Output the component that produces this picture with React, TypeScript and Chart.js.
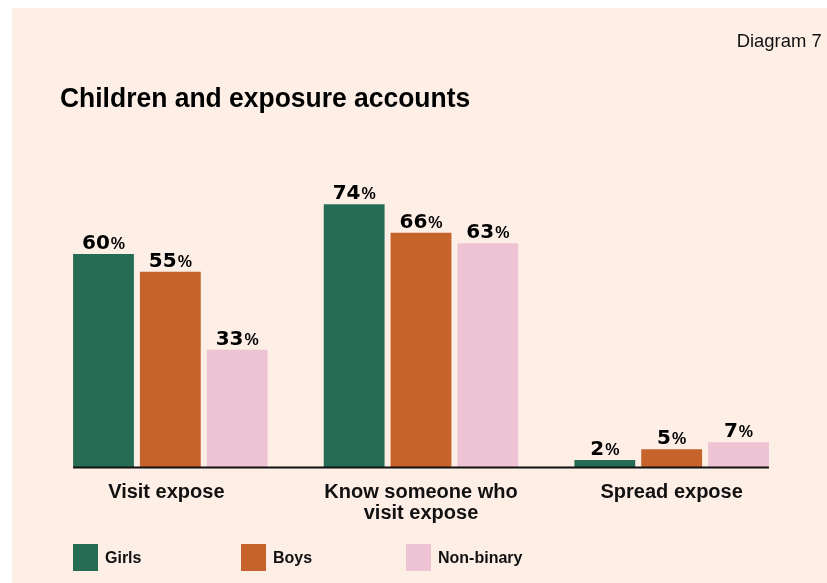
import React, { useEffect, useRef } from "react";
import { Chart, registerables } from "chart.js";

Chart.register(...registerables);

const categories: string[][] = [["Visit expose"], ["Know someone who", "visit expose"], ["Spread expose"]];
const seriesNames = ["Girls", "Boys", "Non-binary"];
const girls = [60, 74, 2];
const boys = [55, 66, 5];
const nonBinary = [33, 63, 7];
const seriesColors = ["#256c54", "#c5632a", "#eec3d4"];
const titleText = "Children and exposure accounts";
const diagramText = "Diagram 7";

const BG = "#fdeee6";

const labelPlugin = {
  id: "customLabels",
  afterDatasetsDraw(chart: any) {
    const ctx = chart.ctx;
    const xs = chart.scales.x;
    const ys = chart.scales.y;
    const y0 = ys.getPixelForValue(0);
    const first = chart.getDatasetMeta(0).data[0];
    const lastMeta = chart.getDatasetMeta(chart.data.datasets.length - 1);
    const last = lastMeta.data[lastMeta.data.length - 1];
    ctx.save();
    ctx.strokeStyle = "#111";
    ctx.lineWidth = 2;
    ctx.beginPath();
    ctx.moveTo(first.x - first.width / 2, y0 + 0.5);
    ctx.lineTo(last.x + last.width / 2, y0 + 0.5);
    ctx.stroke();

    chart.data.datasets.forEach((ds: any, di: number) => {
      const meta = chart.getDatasetMeta(di);
      meta.data.forEach((bar: any, i: number) => {
        const num = String(ds.data[i]);
        ctx.font = "bold 20px 'DejaVu Sans'";
        const wn = ctx.measureText(num).width;
        ctx.font = "bold 16px 'Liberation Sans'";
        const wp = ctx.measureText("%").width;
        const total = wn + 1 + wp;
        const left = bar.x - total / 2;
        const base = bar.y - 5;
        ctx.fillStyle = "#000";
        ctx.textAlign = "left";
        ctx.textBaseline = "alphabetic";
        ctx.font = "bold 20px 'DejaVu Sans'";
        ctx.fillText(num, left, base);
        ctx.font = "bold 16px 'Liberation Sans'";
        ctx.fillText("%", left + wn + 1, base);
      });
    });

    ctx.font = "bold 20px 'Liberation Sans'";
    ctx.textAlign = "center";
    ctx.fillStyle = "#111";
    categories.forEach((lines, i) => {
      const x = xs.getPixelForValue(i);
      lines.forEach((line, li) => {
        ctx.fillText(line, x - 4 * (i === 0 ? 1 : 0), y0 + 31 + li * 21);
      });
    });
    ctx.restore();
  },
};

export default function App() {
  const ref = useRef<HTMLCanvasElement>(null);
  useEffect(() => {
    if (!ref.current) return;
    const datasets = [girls, boys, nonBinary].map((d, i) => ({
      label: seriesNames[i],
      data: d,
      backgroundColor: seriesColors[i],
      borderWidth: 0,
      barPercentage: 0.91,
      categoryPercentage: 0.8,
    }));
    const chart = new Chart(ref.current, {
      type: "bar",
      data: { labels: categories.map((c) => c.join(" ")), datasets },
      options: {
        animation: false,
        responsive: false,
        layout: { padding: { left: 45, right: 30, top: 112, bottom: 116 } },
        scales: {
          x: { display: false },
          y: { display: false, min: 0, max: 100 },
        },
        plugins: { legend: { display: false }, tooltip: { enabled: false }, title: { display: false } },
      },
      plugins: [labelPlugin],
    });
    return () => chart.destroy();
  }, []);

  const legendX = [73, 241, 406];
  return (
    <div style={{ position: "fixed", left: 0, top: 0, width: 827, height: 583, background: "#fff", overflow: "hidden" }}>
      <div style={{ position: "absolute", left: 12, top: 8, right: 0, bottom: 0, background: BG }} />
      <canvas ref={ref} width={827} height={583} style={{ position: "absolute", left: 0, top: 0 }} />
      <div
        style={{
          position: "absolute",
          right: 5,
          top: 29,
          fontFamily: "'Liberation Sans', Arial, sans-serif",
          fontSize: 19,
          color: "#111",
          lineHeight: "24px",
          transform: "scaleX(0.97)",
          transformOrigin: "right center",
          whiteSpace: "nowrap",
        }}
      >
        {diagramText}
      </div>
      <div
        style={{
          position: "absolute",
          left: 60,
          top: 82,
          fontFamily: "'Liberation Sans', Arial, sans-serif",
          fontWeight: "bold",
          fontSize: 28,
          color: "#000",
          lineHeight: "32px",
          whiteSpace: "nowrap",
          transform: "scaleX(0.945)",
          transformOrigin: "left center",
        }}
      >
        {titleText}
      </div>
      {seriesNames.map((name, i) => (
        <div key={name} style={{ position: "absolute", left: legendX[i], top: 544, display: "flex", alignItems: "center" }}>
          <div style={{ width: 25, height: 27, background: seriesColors[i] }} />
          <span
            style={{
              marginLeft: 7,
              fontFamily: "'Liberation Sans', Arial, sans-serif",
              fontWeight: "bold",
              fontSize: 16,
              color: "#111",
            }}
          >
            {name}
          </span>
        </div>
      ))}
    </div>
  );
}
